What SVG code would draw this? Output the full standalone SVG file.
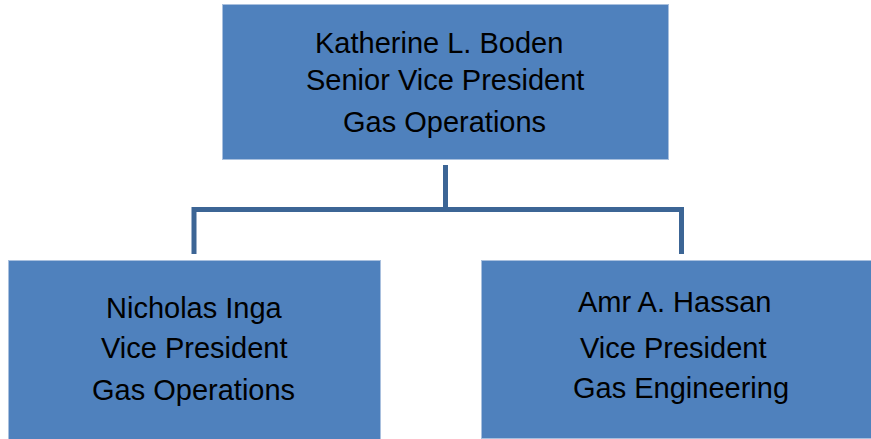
<svg xmlns="http://www.w3.org/2000/svg" width="871" height="439" viewBox="0 0 871 439">
<style>
.box{fill:#4f81bd;stroke:#a9c0de;stroke-width:1}
.t{font-family:"Liberation Sans",Arial,sans-serif;font-size:29px;fill:#000}
.c{fill:none;stroke:#3c6595;stroke-width:5;stroke-linejoin:miter}
</style>
<rect width="871" height="439" fill="#fff"/>
<g id="connectors">
<path class="c" d="M445.5 165 V209.5"/>
<path class="c" d="M194 254 V209.5 H681.5 V254"/>
</g>
<g id="boden">
<rect class="box" x="222.5" y="4.5" width="446" height="155"/>
<text class="t" x="315" y="53">Katherine L. Boden</text>
<text class="t" x="306" y="90">Senior Vice President</text>
<text class="t" x="343" y="132">Gas Operations</text>
</g>
<g id="inga">
<rect class="box" x="8.5" y="260.5" width="372" height="180"/>
<text class="t" x="106" y="318">Nicholas Inga</text>
<text class="t" x="101" y="358">Vice President</text>
<text class="t" x="92" y="400">Gas Operations</text>
</g>
<g id="hassan">
<rect class="box" x="481.5" y="260.5" width="392" height="178"/>
<text class="t" x="578" y="312">Amr A. Hassan</text>
<text class="t" x="580" y="358">Vice President</text>
<text class="t" x="573" y="398">Gas Engineering</text>
</g>
</svg>
